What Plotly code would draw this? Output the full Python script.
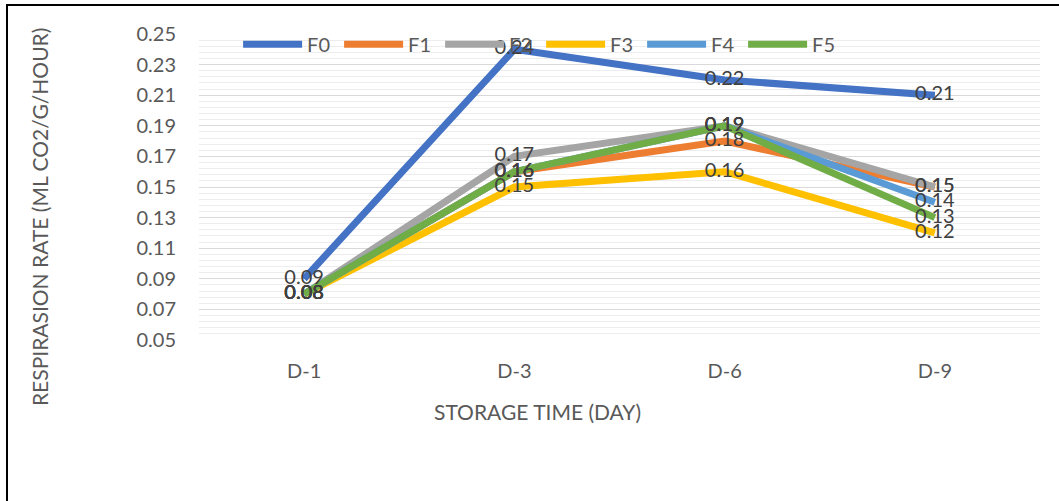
import plotly.graph_objects as go

# Storage days on the x axis
days = ["D-1", "D-3", "D-6", "D-9"]

# Respiration rate per formulation (ml CO2/g/hour)
f0 = [0.09, 0.24, 0.22, 0.21]
f1 = [0.08, 0.16, 0.18, 0.15]
f2 = [0.08, 0.17, 0.19, 0.15]
f3 = [0.08, 0.15, 0.16, 0.12]
f4 = [0.08, 0.16, 0.19, 0.14]
f5 = [0.08, 0.16, 0.19, 0.13]

series_names = ["F0", "F1", "F2", "F3", "F4", "F5"]
series_values = [f0, f1, f2, f3, f4, f5]
series_colors = ["#4472C4", "#ED7D31", "#A5A5A5", "#FFC000", "#5B9BD5", "#70AD47"]

y_tick_values = [0.05, 0.07, 0.09, 0.11, 0.13, 0.15, 0.17, 0.19, 0.21, 0.23, 0.25]
y_tick_labels = ["0.05", "0.07", "0.09", "0.11", "0.13", "0.15", "0.17", "0.19", "0.21", "0.23", "0.25"]

FONT = "Lato, 'Open Sans', sans-serif"
TICK_COLOR = "#595959"
LABEL_COLOR = "#404040"

fig = go.Figure()

# Lines first so every value label sits on top of all lines
for name, vals, color in zip(series_names, series_values, series_colors):
    fig.add_trace(go.Scatter(
        x=days, y=vals, name=name, mode="lines",
        line=dict(color=color, width=7),
        hoverinfo="x+y+name",
    ))

for name, vals in zip(series_names, series_values):
    fig.add_trace(go.Scatter(
        x=days, y=vals, mode="text",
        text=[f"{v:.2f}" for v in vals],
        textposition="middle center",
        textfont=dict(family=FONT, size=20, color=LABEL_COLOR),
        showlegend=False, hoverinfo="skip",
    ))

fig.update_layout(
    width=1059, height=501,
    margin=dict(l=199, r=19, t=34, b=161),
    paper_bgcolor="white", plot_bgcolor="white",
    font=dict(family=FONT, color=TICK_COLOR),
    showlegend=True,
    legend=dict(
        orientation="h", x=0.0465, y=1.03, xanchor="left", yanchor="top",
        bgcolor="rgba(0,0,0,0)",
        font=dict(family=FONT, size=20, color=TICK_COLOR),
        entrywidth=27, entrywidthmode="pixels",
        itemwidth=59,
    ),
    xaxis=dict(
        type="category", range=[-0.5, 3.5],
        showgrid=False, showline=False, ticks="", zeroline=False,
        tickfont=dict(family=FONT, size=20, color=TICK_COLOR),
        ticklabelstandoff=17,
    ),
    yaxis=dict(
        range=[0.05, 0.25],
        tickvals=y_tick_values, ticktext=y_tick_labels,
        showgrid=True, gridcolor="#D9D9D9", gridwidth=1.3,
        zeroline=False, showline=False, ticks="",
        tickfont=dict(family=FONT, size=20, color=TICK_COLOR),
        ticklabelstandoff=22,
        minor=dict(dtick=0.004, tick0=0.05, showgrid=True,
                   gridcolor="#EDEDED", gridwidth=1.3),
    ),
    annotations=[
        dict(text="RESPIRASION RATE (ML CO2/G/HOUR)", textangle=-90,
             xref="paper", yref="paper", x=-0.189, y=0.402,
             xanchor="center", yanchor="middle", showarrow=False,
             font=dict(family=FONT, size=21, color=TICK_COLOR)),
        dict(text="STORAGE TIME (DAY)",
             xref="paper", yref="paper", x=0.403, y=-0.235,
             xanchor="center", yanchor="middle", showarrow=False,
             font=dict(family=FONT, size=21, color=TICK_COLOR)),
    ],
    shapes=[
        dict(type="rect", xref="paper", yref="paper",
             x0=-0.2283, x1=1.06, y0=-0.6, y1=1.0948,
             line=dict(color="black", width=2), fillcolor="rgba(0,0,0,0)",
             layer="below"),
    ],
)

fig.write_html("out.html")
